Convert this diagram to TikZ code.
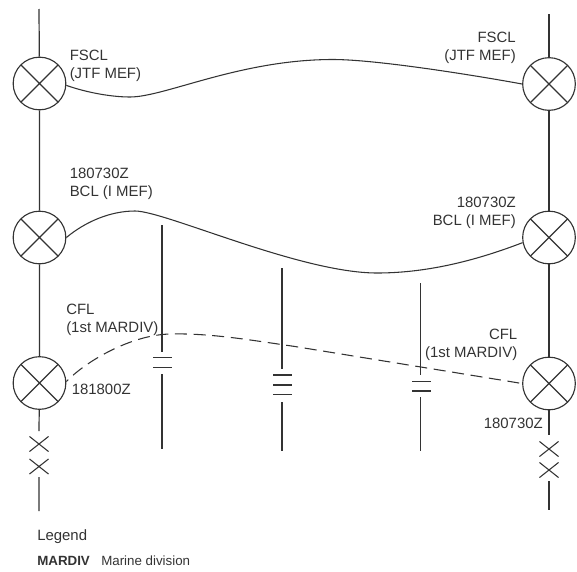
\documentclass[tikz,border=0pt]{standalone}
\usepackage{fontspec}
\setmainfont{Liberation Sans}
\usetikzlibrary{shapes.misc}
\definecolor{ink}{HTML}{333333}
\tikzset{
 cross/.style={circle,draw=ink,line width=0.85pt,minimum size=39.5pt,inner sep=0pt,
   path picture={\draw[ink,line width=0.85pt] (path picture bounding box.south west)--(path picture bounding box.north east) (path picture bounding box.north west)--(path picture bounding box.south east);}},
 ln/.style={ink,line width=0.9pt},
 thin line/.style={ink,line width=0.8pt},
 xmark/.style={cross out,draw=ink,line width=0.8pt,minimum width=13.5pt,minimum height=10.5pt,inner sep=0pt},
 lab/.style={text=ink,font=\fontsize{11.2pt}{13.5pt}\selectfont,inner sep=0pt,align=left},
 labr/.style={lab,align=right},
 leg/.style={text=ink,font=\fontsize{10pt}{12pt}\selectfont,inner sep=0pt},
}
\begin{document}
\begin{tikzpicture}[x=0.75pt,y=-0.75pt]
\useasboundingbox (0,0) rectangle (577,571);
\node[cross] (L1) at (39.5,83.5) {};
\node[cross] (L2) at (39.5,237.5) {};
\node[cross] (L3) at (39.5,383) {};
\node[cross] (R1) at (549,84) {};
\node[cross] (R2) at (549,237.5) {};
\node[cross] (R3) at (549,383.5) {};
\node[xmark] (LX1) at (39,444) {};
\node[xmark] (LX2) at (39,466.5) {};
\node[xmark] (RX1) at (549,449) {};
\node[xmark] (RX2) at (549,470) {};
\coordinate (Ltop) at (39,9);
\coordinate (Rtop) at (549,14);
\coordinate (Lb1) at (39,431);
\coordinate (Lb2) at (39,477);
\coordinate (Lb3) at (39,511);
\coordinate (Rb1) at (549,435);
\coordinate (Rb2) at (549,481);
\coordinate (Rb3) at (549,510);
\draw[ln] (Ltop)--(L1) (L1)--(L2) (L2)--(L3) (L3)--(Lb1) (Lb2)--(Lb3);
\draw[ln] (Rtop)--(R1) (R1)--(R2) (R2)--(R3) (R3)--(Rb1) (Rb2)--(Rb3);
\draw[thin line] (L1.-4.5) .. controls (85,92) and (110,97) .. (130,97) .. controls (165,97) and (240,59.5) .. (333,59.5) .. controls (375,59.5) and (470,74.5) .. (R1.180);
\draw[thin line] (L2.0) .. controls (85,222) and (110,211) .. (135,211) .. controls (165,211) and (300,273) .. (377,273) .. controls (430,273) and (480,259) .. (R2.191);
\draw[thin line,dash pattern=on 9pt off 5pt,dash phase=7pt] (L3.3) .. controls (85,362) and (130,335) .. (170,334) .. controls (210,333) and (250,340) .. (295,346.5) -- (R3.180);
% unit boundaries
\coordinate (A1) at (162,225); \coordinate (A2) at (162,352); \coordinate (A3) at (162,374); \coordinate (A4) at (162,449);
\coordinate (B1) at (282,268); \coordinate (B2) at (282,369); \coordinate (B3) at (282,402); \coordinate (B4) at (282,451);
\coordinate (C1) at (420.5,283); \coordinate (C2) at (420.5,375); \coordinate (C3) at (420.5,397); \coordinate (C4) at (420.5,451);
\draw[thin line] (A1)--(A2) (A3)--(A4) (B1)--(B2) (B3)--(B4) (C1)--(C2) (C3)--(C4);
\draw[thin line] (153,357.5)--(172,357.5) (153,367.5)--(172,367.5);
\draw[thin line] (273,375)--(292,375) (273,385)--(292,385) (273,394.5)--(292,394.5);
\draw[thin line] (412,381.5)--(431,381.5) (412,391)--(431,391);
\node[lab,anchor=north west] (t1) at (69.5,50) {FSCL\\(JTF MEF)};
\node[labr,anchor=north east] (t2) at (516,32) {FSCL\\(JTF MEF)};
\node[lab,anchor=north west] (t3) at (69.5,168) {180730Z\\BCL (I MEF)};
\node[labr,anchor=north east] (t4) at (516,197) {180730Z\\BCL (I MEF)};
\node[lab,anchor=north west] (t5) at (66,304) {CFL\\(1st MARDIV)};
\node[labr,anchor=north east] (t6) at (517.5,329) {CFL\\(1st MARDIV)};
\node[lab,anchor=west] (t7) at (71.5,389) {181800Z};
\node[lab,anchor=east] (t8) at (543,423) {180730Z};
\node[lab,anchor=west] (t9) at (37,537) {Legend};
\node[leg,anchor=west] (t10) at (37,561) {\textbf{MARDIV}};
\node[leg,anchor=west] (t11) at (101,561) {Marine division};
\end{tikzpicture}
\end{document}
